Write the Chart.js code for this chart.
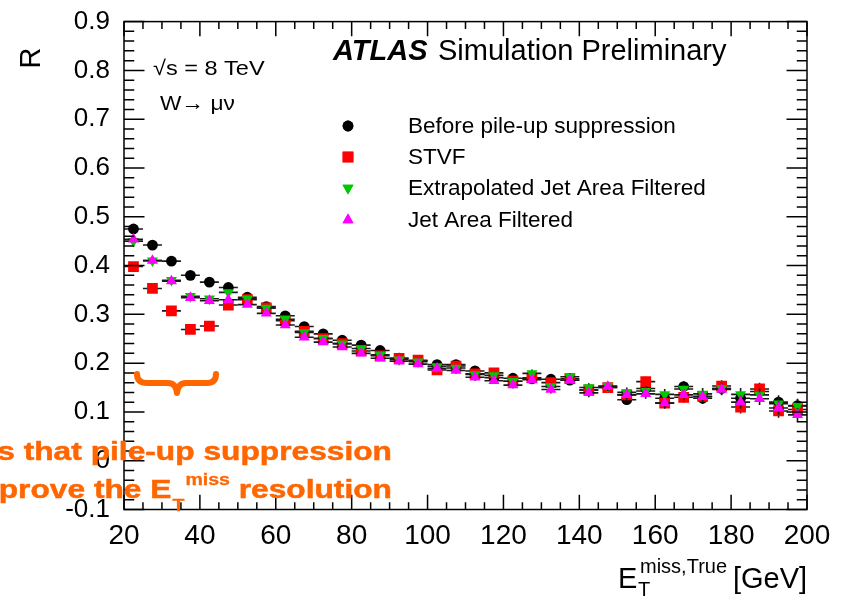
<!DOCTYPE html>
<html>
<head>
<meta charset="utf-8">
<script src="https://cdn.jsdelivr.net/npm/chart.js@4.4.1/dist/chart.umd.min.js"></script>
<style>
  html, body { margin: 0; padding: 0; background: #fff; }
  canvas { display: block; }
</style>
</head>
<body>
<canvas id="chart" width="842" height="597"></canvas>
<script>
// bin centres (5 GeV bins)
const binCentres = [22.5, 27.5, 32.5, 37.5, 42.5, 47.5, 52.5, 57.5, 62.5, 67.5, 72.5, 77.5,
  82.5, 87.5, 92.5, 97.5, 102.5, 107.5, 112.5, 117.5, 122.5, 127.5, 132.5, 137.5,
  142.5, 147.5, 152.5, 157.5, 162.5, 167.5, 172.5, 177.5, 182.5, 187.5, 192.5, 197.5];
const binHalfWidth = 2.5;

const beforeVals = [0.475, 0.442, 0.409, 0.380, 0.366, 0.355, 0.335, 0.316, 0.297, 0.275, 0.260, 0.247,
  0.237, 0.226, 0.210, 0.205, 0.197, 0.197, 0.184, 0.170, 0.169, 0.168, 0.167, 0.165,
  0.145, 0.150, 0.125, 0.148, 0.128, 0.152, 0.128, 0.148, 0.128, 0.142, 0.120, 0.113];
const stvfVals = [0.398, 0.353, 0.307, 0.269, 0.276, 0.319, 0.330, 0.313, 0.287, 0.265, 0.250, 0.240,
  0.225, 0.215, 0.210, 0.206, 0.186, 0.194, 0.178, 0.180, 0.163, 0.170, 0.160, 0.168,
  0.145, 0.150, 0.135, 0.162, 0.118, 0.130, 0.132, 0.153, 0.110, 0.147, 0.102, 0.105];
const extraJafVals = [0.450, 0.410, 0.370, 0.337, 0.332, 0.345, 0.332, 0.313, 0.290, 0.263, 0.251, 0.240,
  0.230, 0.217, 0.207, 0.203, 0.193, 0.190, 0.177, 0.175, 0.163, 0.179, 0.152, 0.172,
  0.150, 0.153, 0.140, 0.143, 0.136, 0.147, 0.137, 0.148, 0.136, 0.135, 0.117, 0.112];
const jafVals = [0.454, 0.410, 0.368, 0.334, 0.328, 0.330, 0.320, 0.302, 0.278, 0.253, 0.243, 0.233,
  0.220, 0.210, 0.204, 0.198, 0.189, 0.185, 0.171, 0.164, 0.155, 0.166, 0.146, 0.165,
  0.139, 0.152, 0.135, 0.137, 0.118, 0.135, 0.131, 0.146, 0.120, 0.127, 0.108, 0.094];
// rough statistical errors (same for all curves)
const yErrs = [0.004, 0.004, 0.004, 0.004, 0.004, 0.004, 0.004, 0.004, 0.005, 0.005, 0.005, 0.005,
  0.005, 0.005, 0.006, 0.006, 0.006, 0.006, 0.007, 0.007, 0.007, 0.008, 0.008, 0.008,
  0.009, 0.009, 0.010, 0.010, 0.011, 0.011, 0.012, 0.012, 0.013, 0.013, 0.014, 0.014];

const seriesNames = ['Before pile-up suppression', 'STVF', 'Extrapolated Jet Area Filtered', 'Jet Area Filtered'];
const xTicks = [20, 40, 60, 80, 100, 120, 140, 160, 180, 200];
const yTicks = [-0.1, 0, 0.1, 0.2, 0.3, 0.4, 0.5, 0.6, 0.7, 0.8, 0.9];
const yTickLabels = ['-0.1', '0', '0.1', '0.2', '0.3', '0.4', '0.5', '0.6', '0.7', '0.8', '0.9'];

const FONT = "'Liberation Sans', Arial, Helvetica, sans-serif";
const ORANGE = '#ff6600';

function pts(vals) {
  return vals.map((v, i) => ({ x: binCentres[i], y: v }));
}

const styles = [
  { color: '#000000', pointStyle: 'circle', radius: 5.4, rotation: 0 },
  { color: '#ff0000', pointStyle: 'rect', radius: 7.6, rotation: 0 },
  { color: '#00c800', pointStyle: 'triangle', radius: 6.4, rotation: 180 },
  { color: '#ff00ff', pointStyle: 'triangle', radius: 6.4, rotation: 0 }
];
const allVals = [beforeVals, stvfVals, extraJafVals, jafVals];

const datasets = allVals.map((vals, i) => ({
  label: seriesNames[i],
  data: pts(vals),
  pointStyle: styles[i].pointStyle,
  pointRadius: styles[i].radius,
  pointRotation: styles[i].rotation,
  pointBackgroundColor: styles[i].color,
  pointBorderWidth: 0,
  pointBorderColor: styles[i].color,
  showLine: false,
  order: 4 - i   // later series on top
}));

// error bars drawn just before each dataset's markers
const errorBars = {
  id: 'errorBars',
  beforeDatasetDraw(chart, args) {
    const ctx = chart.ctx;
    const xs = chart.scales.x, ys = chart.scales.y;
    const vals = allVals[args.index];
    ctx.save();
    ctx.strokeStyle = '#1a1a1a';
    ctx.lineWidth = 1.6;
    ctx.beginPath();
    vals.forEach((v, i) => {
      const x = xs.getPixelForValue(binCentres[i]);
      const y = ys.getPixelForValue(v);
      ctx.moveTo(xs.getPixelForValue(binCentres[i] - binHalfWidth), y);
      ctx.lineTo(xs.getPixelForValue(binCentres[i] + binHalfWidth), y);
      ctx.moveTo(x, ys.getPixelForValue(v - yErrs[i]));
      ctx.lineTo(x, ys.getPixelForValue(v + yErrs[i]));
    });
    ctx.stroke();
    ctx.restore();
  }
};

// ROOT style frame with ticks on all four sides
const frame = {
  id: 'frame',
  afterDatasetsDraw(chart) {
    const ctx = chart.ctx;
    const a = chart.chartArea;
    const xs = chart.scales.x, ys = chart.scales.y;
    const yLen = 0.03 * (a.right - a.left);
    const xLen = 0.03 * (a.bottom - a.top);
    ctx.save();
    ctx.strokeStyle = '#000';
    ctx.lineWidth = 1.5;
    ctx.strokeRect(a.left, a.top, a.right - a.left, a.bottom - a.top);
    ctx.beginPath();
    for (let k = 0; k <= 36; k++) {
      const v = 20 + k * 5;
      const px = xs.getPixelForValue(v);
      const len = (k % 4 === 0) ? xLen : xLen / 2;
      ctx.moveTo(px, a.bottom); ctx.lineTo(px, a.bottom - len);
      ctx.moveTo(px, a.top); ctx.lineTo(px, a.top + len);
    }
    for (let k = 0; k <= 50; k++) {
      const v = -0.1 + k * 0.02;
      const py = ys.getPixelForValue(v);
      const len = (k % 5 === 0) ? yLen : yLen / 2;
      ctx.moveTo(a.left, py); ctx.lineTo(a.left + len, py);
      ctx.moveTo(a.right, py); ctx.lineTo(a.right - len, py);
    }
    ctx.stroke();
    ctx.restore();
  }
};

// text squeezed/stretched horizontally, optionally thickened
function stretchText(ctx, text, x, y, sx, bold) {
  ctx.save();
  ctx.translate(x, y);
  ctx.scale(sx, 1);
  if (bold) { ctx.lineWidth = bold; ctx.strokeText(text, 0, 0); }
  ctx.fillText(text, 0, 0);
  ctx.restore();
}

const labels = {
  id: 'labels',
  afterDraw(chart) {
    const ctx = chart.ctx;
    ctx.save();
    ctx.fillStyle = '#000';
    ctx.textBaseline = 'alphabetic';

    // title
    ctx.font = 'italic bold 29px ' + FONT;
    ctx.fillText('ATLAS', 333, 60);
    ctx.font = '29px ' + FONT;
    ctx.fillText('Simulation Preliminary', 438, 60);

    // energy / channel
    ctx.font = '21px ' + FONT;
    stretchText(ctx, '\u221As = 8 TeV', 153, 75, 1.12, 0);
    stretchText(ctx, 'W\u2192 \u03BC\u03BD', 160, 110, 1.08, 0);

    // legend
    ctx.font = '22.5px ' + FONT;
    ctx.textBaseline = 'middle';
    const rows = [126, 157, 188, 220];
    seriesNames.forEach((name, i) => {
      const st = styles[i];
      ctx.fillStyle = st.color;
      Chart.helpers.drawPoint(ctx, { pointStyle: st.pointStyle, radius: st.radius, rotation: st.rotation, borderWidth: 0 }, 348, rows[i]);
      ctx.fill();
      ctx.fillStyle = '#000';
      ctx.fillText(name, 408, rows[i] + 1);
    });

    // axis titles
    ctx.textBaseline = 'alphabetic';
    ctx.font = '29px ' + FONT;
    ctx.save();
    ctx.translate(40, 58);
    ctx.rotate(-Math.PI / 2);
    ctx.textAlign = 'center';
    ctx.fillText('R', 0, 0);
    ctx.restore();

    ctx.fillText('E', 618, 588);
    ctx.font = '20px ' + FONT;
    ctx.fillText('T', 638, 596);
    ctx.fillText('miss,True', 640, 573);
    ctx.font = '29px ' + FONT;
    ctx.fillText('[GeV]', 733, 588);

    // orange overlay from the slide
    ctx.fillStyle = ORANGE;
    ctx.strokeStyle = ORANGE;
    ctx.lineJoin = 'round';
    const sx = 1.22;
    const big = 'bold 26px ' + FONT, small = 'bold 16px ' + FONT;
    ctx.font = big;
    const w1 = ctx.measureText('s that pile-up suppression').width * sx;
    stretchText(ctx, 's that pile-up suppression', 392 - w1, 460, sx, 0.5);

    ctx.font = big; const wa = ctx.measureText('prove the E').width * sx;
    const wd = ctx.measureText(' resolution').width * sx;
    ctx.font = small; const wb = ctx.measureText('T').width * sx;
    const wc = ctx.measureText('miss').width * sx;
    let x = 392 - (wa + wb + wc + 2 + wd);
    ctx.font = big; stretchText(ctx, 'prove the E', x, 498, sx, 0.5); x += wa;
    ctx.font = small; stretchText(ctx, 'T', x + 1, 511, sx, 0.3); x += wb + 2;
    stretchText(ctx, 'miss', x, 485, sx, 0.3); x += wc;
    ctx.font = big; stretchText(ctx, ' resolution', x, 498, sx, 0.5);

    // brace
    ctx.lineWidth = 6;
    ctx.lineCap = 'round';
    ctx.beginPath();
    ctx.moveTo(137, 374);
    ctx.quadraticCurveTo(137, 383, 147, 383);
    ctx.lineTo(168, 383);
    ctx.quadraticCurveTo(176, 383, 177, 393);
    ctx.quadraticCurveTo(178, 383, 186, 383);
    ctx.lineTo(207, 383);
    ctx.quadraticCurveTo(216, 383, 216, 374);
    ctx.stroke();
    ctx.restore();
  }
};

new Chart(document.getElementById('chart').getContext('2d'), {
  type: 'scatter',
  data: { datasets: datasets },
  options: {
    responsive: false,
    animation: false,
    layout: { padding: { left: 0, top: 17, right: 35, bottom: 0 } },
    plugins: { legend: { display: false }, tooltip: { enabled: false } },
    scales: {
      x: {
        type: 'linear', min: 20, max: 200,
        grid: { display: false }, border: { display: false },
        afterBuildTicks: s => { s.ticks = xTicks.map(v => ({ value: v })); },
        afterFit: s => { s.height = 87.5; },
        ticks: { font: { family: FONT, size: 28 }, color: '#000', padding: 2, maxRotation: 0,
          callback: v => String(v) }
      },
      y: {
        type: 'linear', min: -0.1, max: 0.9,
        grid: { display: false }, border: { display: false },
        afterBuildTicks: s => { s.ticks = yTicks.map(v => ({ value: v })); },
        afterFit: s => { s.width = 124; },
        ticks: { font: { family: FONT, size: 26 }, color: '#000', padding: 6,
          callback: (v, i) => yTickLabels[i] }
      }
    }
  },
  plugins: [errorBars, frame, labels]
});
</script>
</body>
</html>
